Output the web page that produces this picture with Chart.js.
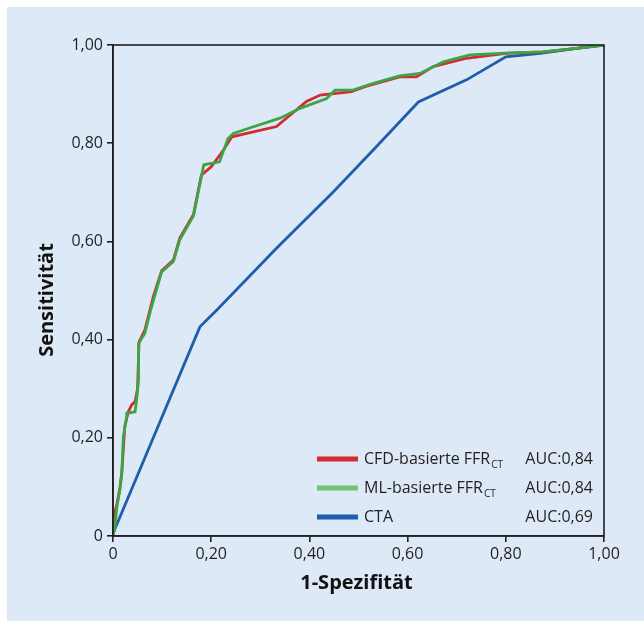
<!DOCTYPE html>
<html>
<head>
<meta charset="utf-8">
<script src="https://cdn.jsdelivr.net/npm/chart.js@4/dist/chart.umd.min.js"></script>
<style>
  body { margin: 0; background: #ffffff; }
  #roc { display: block; }
</style>
</head>
<body>
<canvas id="roc" width="644" height="621"></canvas>
<script>
// ROC curves (x = 1-Spezifität, y = Sensitivität)
const cfdX = [0, 0, 0.008, 0.014, 0.018, 0.024, 0.031, 0.038, 0.045, 0.05, 0.053, 0.065, 0.082, 0.099, 0.123, 0.136, 0.164, 0.18, 0.2, 0.225, 0.242, 0.333, 0.394, 0.422, 0.486, 0.513, 0.584, 0.618, 0.652, 0.72, 0.8, 0.876, 0.944, 1];
const cfdY = [0, 0.033, 0.065, 0.097, 0.13, 0.223, 0.253, 0.267, 0.274, 0.3, 0.395, 0.42, 0.487, 0.54, 0.562, 0.607, 0.655, 0.735, 0.752, 0.786, 0.813, 0.834, 0.885, 0.898, 0.905, 0.915, 0.935, 0.935, 0.956, 0.973, 0.983, 0.986, 0.993, 1];

const mlX = [0, 0.004, 0.008, 0.014, 0.018, 0.021, 0.028, 0.028, 0.045, 0.048, 0.052, 0.052, 0.065, 0.075, 0.099, 0.123, 0.136, 0.164, 0.18, 0.185, 0.217, 0.234, 0.245, 0.272, 0.34, 0.381, 0.435, 0.452, 0.489, 0.53, 0.584, 0.625, 0.673, 0.727, 0.809, 0.876, 0.944, 1];
const mlY = [0, 0.02, 0.06, 0.094, 0.128, 0.202, 0.243, 0.25, 0.253, 0.277, 0.318, 0.392, 0.413, 0.454, 0.538, 0.559, 0.603, 0.652, 0.732, 0.756, 0.762, 0.809, 0.82, 0.829, 0.851, 0.871, 0.891, 0.908, 0.908, 0.922, 0.937, 0.942, 0.966, 0.98, 0.984, 0.986, 0.993, 1];

const ctaX = [0, 0.177, 0.211, 0.333, 0.449, 0.53, 0.622, 0.72, 0.8, 0.87, 0.944, 1];
const ctaY = [0.005, 0.426, 0.46, 0.586, 0.701, 0.786, 0.884, 0.929, 0.976, 0.983, 0.993, 1];

const tickLabels = ['0', '0,20', '0,40', '0,60', '0,80', '1,00'];
const legendNames = ['CFD-basierte FFR', 'ML-basierte FFR', 'CTA'];
const legendSubs = ['CT', 'CT', ''];
const aucLabels = ['AUC:0,84', 'AUC:0,84', 'AUC:0,69'];
const colors = ['#d42a32', '#3aa646', '#1d5faa'];
const legendColors = ['#d42a32', '#6cc474', '#1d5faa'];

function toPoints(xs, ys) {
  return xs.map((x, i) => ({ x: x, y: ys[i] }));
}

const FONT = '"Open Sans", "Noto Sans", sans-serif';

const decor = {
  id: 'decor',
  beforeDraw(chart) {
    const c = chart.ctx;
    c.save();
    c.fillStyle = '#dde9f7';
    c.fillRect(7, 7, chart.width - 7, chart.height - 7);
    c.restore();
  },
  afterDraw(chart) {
    const c = chart.ctx;
    const a = chart.chartArea;
    c.save();
    // frame
    c.strokeStyle = '#231f20';
    c.lineWidth = 1.6;
    c.strokeRect(a.left, a.top, a.right - a.left, a.bottom - a.top);

    // axis titles
    c.fillStyle = '#111';
    c.font = 'bold 20px ' + FONT;
    c.textAlign = 'center';
    c.textBaseline = 'middle';
    c.fillText('1-Spezifität', (a.left + a.right) / 2 - 2, 583);
    c.translate(47, 300);
    c.rotate(-Math.PI / 2);
    c.fillText('Sensitivität', 0, 0);
    c.restore();

    // legend
    c.save();
    c.textBaseline = 'middle';
    c.textAlign = 'left';
    legendNames.forEach((name, i) => {
      const y = a.bottom - 77 + i * 29;
      const x0 = a.right - 287;
      c.strokeStyle = legendColors[i];
      c.lineWidth = 5;
      c.beginPath();
      c.moveTo(x0, y);
      c.lineTo(x0 + 41, y);
      c.stroke();
      c.fillStyle = '#231f20';
      c.font = '16px ' + FONT;
      c.fillText(name, x0 + 47, y);
      const w = c.measureText(name).width;
      if (legendSubs[i]) {
        c.font = '10px ' + FONT;
        c.fillText(legendSubs[i], x0 + 47 + w + 1, y + 6);
      }
      c.font = '16px ' + FONT;
      c.textAlign = 'right';
      c.fillText(aucLabels[i], a.right - 11, y);
      c.textAlign = 'left';
    });
    c.restore();
  }
};

const ctx = document.getElementById('roc').getContext('2d');

new Chart(ctx, {
  type: 'line',
  data: {
    datasets: [
      {
        label: legendNames[0],
        data: toPoints(cfdX, cfdY),
        borderColor: colors[0],
        order: 2
      },
      {
        label: legendNames[1],
        data: toPoints(mlX, mlY),
        borderColor: colors[1],
        order: 1
      },
      {
        label: legendNames[2],
        data: toPoints(ctaX, ctaY),
        borderColor: colors[2],
        order: 3
      }
    ]
  },
  options: {
    responsive: false,
    animation: false,
    layout: {
      padding: { top: 45, right: 40, left: 0, bottom: 0 }
    },
    elements: {
      point: { radius: 0 },
      line: { borderWidth: 2.8, tension: 0 }
    },
    plugins: {
      legend: { display: false },
      tooltip: { enabled: false }
    },
    scales: {
      x: {
        type: 'linear',
        min: 0,
        max: 1,
        afterFit: s => { s.height = 85; },
        border: { display: true, color: '#231f20', width: 1.6 },
        grid: { drawOnChartArea: false, drawTicks: true, tickLength: 6, color: '#231f20', lineWidth: 1.6 },
        ticks: {
          stepSize: 0.2,
          padding: 3,
          color: '#231f20',
          font: { family: FONT, size: 16 },
          maxRotation: 0,
          callback: (v, i) => tickLabels[i]
        }
      },
      y: {
        min: 0,
        max: 1,
        afterFit: s => { s.width = 113; },
        border: { display: true, color: '#231f20', width: 1.6 },
        grid: { drawOnChartArea: false, drawTicks: true, tickLength: 6, color: '#231f20', lineWidth: 1.6 },
        ticks: {
          stepSize: 0.2,
          padding: 4,
          color: '#231f20',
          font: { family: FONT, size: 16 },
          callback: (v, i) => tickLabels[i]
        }
      }
    }
  },
  plugins: [decor]
});
</script>
</body>
</html>
